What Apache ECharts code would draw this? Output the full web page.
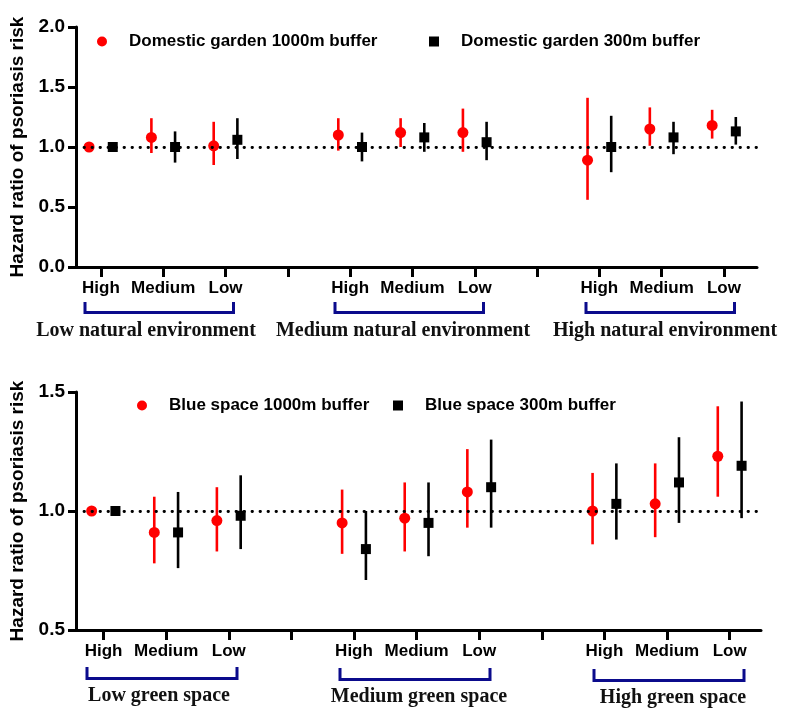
<!DOCTYPE html>
<html lang="en">
<head>
<meta charset="UTF-8">
<title>Hazard ratio of psoriasis risk</title>
<script src="https://cdn.jsdelivr.net/npm/echarts@6/dist/echarts.min.js"></script>
<style>
  html, body { margin: 0; padding: 0; background: #fff; }
</style>
</head>
<body>
<div id="main" style="width: 796px; height: 722px;"></div>
<script type="text/javascript">
// categories
var levels = ['High', 'Medium', 'Low'];
var xPos = [1, 2, 3, 5, 6, 7, 9, 10, 11];   // slot of each level on the x axis (4 and 8 are gaps)
var tickPos = [1, 2, 3, 4, 5, 6, 7, 8, 9, 10, 11];
var topGroups = ['Low natural environment', 'Medium natural environment', 'High natural environment'];
var bottomGroups = ['Low green space', 'Medium green space', 'High green space'];
var topTicks = [0, 0.5, 1.0, 1.5, 2.0];
var bottomTicks = [0.5, 1.0, 1.5];

// top panel: domestic garden
var garden1000HR = [1.00, 1.08, 1.01, 1.10, 1.12, 1.12, 0.89, 1.15, 1.18];
var garden1000Lo = [null, 0.95, 0.85, 0.97, 1.00, 0.96, 0.56, 1.01, 1.07];
var garden1000Hi = [null, 1.24, 1.21, 1.24, 1.24, 1.32, 1.41, 1.33, 1.31];
var garden300HR = [1.00, 1.00, 1.06, 1.00, 1.08, 1.04, 1.00, 1.08, 1.13];
var garden300Lo = [null, 0.87, 0.90, 0.88, 0.96, 0.89, 0.79, 0.94, 1.02];
var garden300Hi = [null, 1.13, 1.24, 1.12, 1.20, 1.21, 1.26, 1.21, 1.25];

// bottom panel: blue space
var blue1000HR = [1.00, 0.91, 0.96, 0.95, 0.97, 1.08, 1.00, 1.03, 1.23];
var blue1000Lo = [null, 0.78, 0.83, 0.82, 0.83, 0.93, 0.86, 0.89, 1.06];
var blue1000Hi = [null, 1.06, 1.10, 1.09, 1.12, 1.26, 1.16, 1.20, 1.44];
var blue300HR = [1.00, 0.91, 0.98, 0.84, 0.95, 1.10, 1.03, 1.12, 1.19];
var blue300Lo = [null, 0.76, 0.84, 0.71, 0.81, 0.93, 0.88, 0.95, 0.97];
var blue300Hi = [null, 1.08, 1.15, 1.00, 1.12, 1.30, 1.20, 1.31, 1.46];

var RED = '#ff0000', BLACK = '#000000', NAVY = '#0b0b8c';
var SANS = '"Liberation Sans", Arial, sans-serif';
var SERIF = '"Liberation Serif", "Times New Roman", serif';
var SHIFT = 0.19;

var myChart = echarts.init(document.getElementById('main'));

function points(hr, shift) {
	return hr.map(function (v, i) { return [xPos[i] + shift, v]; });
}
function bars(lo, hi, shift) {
	var out = [];
	for (var i = 0; i < lo.length; i++) {
		if (lo[i] != null) out.push([xPos[i] + shift, lo[i], hi[i]]);
	}
	return out;
}
function errorBar(color) {
	return function (params, api) {
		var a = api.coord([api.value(0), api.value(1)]);
		var b = api.coord([api.value(0), api.value(2)]);
		return {
			type: 'line',
			shape: { x1: a[0], y1: a[1], x2: b[0], y2: b[1] },
			style: { stroke: color, lineWidth: 2.6 }
		};
	};
}
function xAxisOpt(idx, min, max) {
	return {
		type: 'value', gridIndex: idx, min: min, max: max,
		splitLine: { show: false },
		axisLine: { lineStyle: { color: BLACK, width: 3 } },
		axisTick: { customValues: tickPos, length: 10, lineStyle: { color: BLACK, width: 3 } },
		axisLabel: {
			customValues: xPos, margin: 13,
			fontFamily: SANS, fontWeight: 'bold', fontSize: 17, color: BLACK,
			formatter: function (v) { return levels[(Math.round(v) - 1) % 4]; }
		}
	};
}
function yAxisOpt(idx, ticks) {
	return {
		type: 'value', gridIndex: idx,
		min: ticks[0], max: ticks[ticks.length - 1], interval: 0.5,
		name: 'Hazard ratio of psoriasis risk', nameLocation: 'middle', nameGap: 49,
		nameTextStyle: { fontFamily: SANS, fontWeight: 'bold', fontSize: 19, color: BLACK },
		splitLine: { show: false },
		axisLine: { show: true, lineStyle: { color: BLACK, width: 3 } },
		axisTick: { show: true, length: 8, lineStyle: { color: BLACK, width: 3 } },
		axisLabel: {
			margin: 11, fontFamily: SANS, fontWeight: 'bold', fontSize: 19, color: BLACK,
			formatter: function (v) { return v.toFixed(1); }
		}
	};
}
function refLine() {
	return {
		silent: true, symbol: ['none', 'none'], label: { show: false },
		lineStyle: { color: BLACK, type: [0.5, 7.5], width: 2.8, cap: 'round', opacity: 1 },
		data: [{ yAxis: 1 }]
	};
}
function legendOpt(name, icon, left, top) {
	return {
		data: [{ name: name, icon: icon }], left: left, top: top,
		itemWidth: 10, itemHeight: 10, selectedMode: false,
		textStyle: { fontFamily: SANS, fontWeight: 'bold', fontSize: 17, color: BLACK, padding: [0, 0, 0, 17] }
	};
}

// brackets and group labels
var graphics = [];
function bracket(x1, x2, yTop, yBot) {
	graphics.push({
		type: 'polyline', z: 10,
		shape: { points: [[x1, yTop], [x1, yBot], [x2, yBot], [x2, yTop]] },
		style: { stroke: NAVY, lineWidth: 3, fill: null }
	});
}
function groupLabel(text, cx, cy) {
	graphics.push({
		type: 'text', x: cx, y: cy, z: 10,
		style: { text: text, fill: '#111', font: 'bold 20px ' + SERIF, textAlign: 'center', textVerticalAlign: 'middle' }
	});
}
bracket(85, 233.5, 302, 312.5);
bracket(335, 483.5, 302, 312.5);
bracket(586, 734.5, 302, 312.5);
groupLabel(topGroups[0], 146, 331);
groupLabel(topGroups[1], 403, 331);
groupLabel(topGroups[2], 665, 331);
bracket(87, 237, 667, 678.5);
bracket(340, 490, 668, 679.5);
bracket(594, 744, 669, 680.5);
groupLabel(bottomGroups[0], 159, 696);
groupLabel(bottomGroups[1], 419, 697);
groupLabel(bottomGroups[2], 673, 698);

var option = {
	backgroundColor: '#fff',
	animation: false,
	grid: [
		{ left: 73, right: 39, top: 27, height: 240 },
		{ left: 76, right: 35, top: 392, height: 238 }
	],
	xAxis: [xAxisOpt(0, 0.6, 11.53), xAxisOpt(1, 0.56, 11.5)],
	yAxis: [yAxisOpt(0, topTicks), yAxisOpt(1, bottomTicks)],
	legend: [
		legendOpt('Domestic garden 1000m buffer', 'circle', 92, 28),
		legendOpt('Domestic garden 300m buffer', 'rect', 424, 28),
		legendOpt('Blue space 1000m buffer', 'circle', 132, 392),
		legendOpt('Blue space 300m buffer', 'rect', 388, 392)
	],
	graphic: graphics,
	series: [
		{ name: 'garden 1000 CI', type: 'custom', xAxisIndex: 0, yAxisIndex: 0, z: 2,
			renderItem: errorBar(RED), encode: { x: 0, y: [1, 2] },
			data: bars(garden1000Lo, garden1000Hi, -SHIFT), markLine: refLine() },
		{ name: 'garden 300 CI', type: 'custom', xAxisIndex: 0, yAxisIndex: 0, z: 2,
			renderItem: errorBar(BLACK), encode: { x: 0, y: [1, 2] },
			data: bars(garden300Lo, garden300Hi, SHIFT) },
		{ name: 'Domestic garden 1000m buffer', type: 'scatter', xAxisIndex: 0, yAxisIndex: 0, z: 4,
			symbol: 'circle', symbolSize: 11, itemStyle: { color: RED, opacity: 1 },
			data: points(garden1000HR, -SHIFT) },
		{ name: 'Domestic garden 300m buffer', type: 'scatter', xAxisIndex: 0, yAxisIndex: 0, z: 4,
			symbol: 'rect', symbolSize: 10, itemStyle: { color: BLACK, opacity: 1 },
			data: points(garden300HR, SHIFT) },

		{ name: 'blue 1000 CI', type: 'custom', xAxisIndex: 1, yAxisIndex: 1, z: 2,
			renderItem: errorBar(RED), encode: { x: 0, y: [1, 2] },
			data: bars(blue1000Lo, blue1000Hi, -SHIFT), markLine: refLine() },
		{ name: 'blue 300 CI', type: 'custom', xAxisIndex: 1, yAxisIndex: 1, z: 2,
			renderItem: errorBar(BLACK), encode: { x: 0, y: [1, 2] },
			data: bars(blue300Lo, blue300Hi, SHIFT) },
		{ name: 'Blue space 1000m buffer', type: 'scatter', xAxisIndex: 1, yAxisIndex: 1, z: 4,
			symbol: 'circle', symbolSize: 11, itemStyle: { color: RED, opacity: 1 },
			data: points(blue1000HR, -SHIFT) },
		{ name: 'Blue space 300m buffer', type: 'scatter', xAxisIndex: 1, yAxisIndex: 1, z: 4,
			symbol: 'rect', symbolSize: 10, itemStyle: { color: BLACK, opacity: 1 },
			data: points(blue300HR, SHIFT) }
	]
};

myChart.setOption(option);
</script>
</body>
</html>
